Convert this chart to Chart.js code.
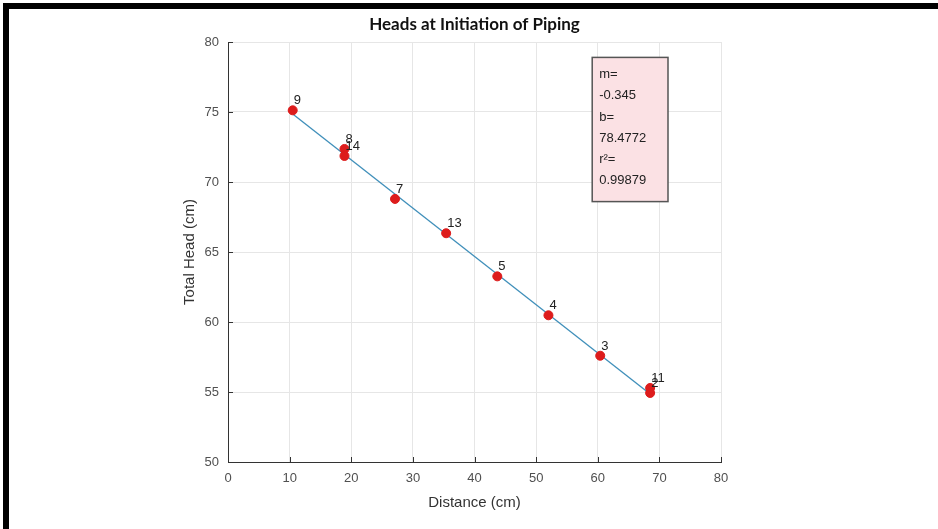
<!DOCTYPE html>
<html>
<head>
<meta charset="utf-8">
<script src="https://cdn.jsdelivr.net/npm/chart.js@4"></script>
<style>
  html, body { margin: 0; padding: 0; background: #fff; }
  #wrap { width: 938px; height: 529px; }
</style>
</head>
<body>
<div id="wrap"><canvas id="pipingChart" width="938" height="529"></canvas></div>
<script>
// tap numbers and readings taken off the plot
const tapLabels = ['9', '8', '14', '7', '13', '5', '4', '3', '11', '2'];
const distance = [10.5, 18.9, 18.9, 27.1, 35.4, 43.7, 52.0, 60.4, 68.5, 68.5];
const totalHead = [75.12, 72.36, 71.86, 68.79, 66.34, 63.26, 60.48, 57.59, 55.29, 54.93];

// fitted line end points
const fitX = [10.5, 68.5];
const fitY = [74.85, 54.85];

const fitText = ['m=', '-0.345', 'b=', '78.4772', 'r\u00B2=', '0.99879'];

const pointData = distance.map((d, i) => ({ x: d, y: totalHead[i] }));
const lineData = fitX.map((d, i) => ({ x: d, y: fitY[i] }));

const frame = {
   id: 'frame',
   beforeDraw(chart) {
      const c = chart.ctx;
      c.save();
      c.fillStyle = '#fff';
      c.fillRect(0, 0, chart.width, chart.height);
      c.fillStyle = '#000';
      c.fillRect(3, 3, 6, chart.height - 3);
      c.fillRect(3, 3, chart.width - 3, 6);
      c.restore();
   }
};

const extras = {
   id: 'extras',
   afterDatasetsDraw(chart) {
      const c = chart.ctx;
      const xs = chart.scales.x, ys = chart.scales.y;
      const area = chart.chartArea;
      c.save();

      // inward tick marks, matlab style
      c.strokeStyle = '#333';
      c.lineWidth = 1;
      c.beginPath();
      xs.ticks.forEach(t => {
         const px = Math.round(xs.getPixelForValue(t.value)) + 0.5;
         c.moveTo(px, area.bottom);
         c.lineTo(px, area.bottom - 5);
      });
      ys.ticks.forEach(t => {
         const py = Math.round(ys.getPixelForValue(t.value)) + 0.5;
         c.moveTo(area.left, py);
         c.lineTo(area.left + 5, py);
      });
      c.stroke();

      // point numbers
      const meta = chart.getDatasetMeta(0);
      c.font = '13px "Liberation Sans", Arial, sans-serif';
      c.fillStyle = '#222';
      c.textAlign = 'left';
      c.textBaseline = 'bottom';
      meta.data.forEach((el, i) => {
         c.fillText(tapLabels[i], el.x + 1, el.y - 3);
      });

      // fit box
      const bx = xs.getPixelForValue(59.1), by = ys.getPixelForValue(78.9);
      const bw = xs.getPixelForValue(71.4) - bx, bh = ys.getPixelForValue(68.6) - by;
      c.fillStyle = '#fbe1e4';
      c.fillRect(bx, by, bw, bh);
      c.strokeStyle = '#555';
      c.lineWidth = 1.5;
      c.strokeRect(bx, by, bw, bh);
      c.fillStyle = '#222';
      c.textBaseline = 'middle';
      fitText.forEach((s, i) => {
         c.fillText(s, bx + 7, by + 17 + i * 21.3);
      });
      c.restore();
   }
};

new Chart(document.getElementById('pipingChart'), {
   type: 'scatter',
   data: {
      datasets: [{
         label: 'Heads',
         data: pointData,
         pointRadius: 4.5,
         pointHoverRadius: 4.5,
         backgroundColor: '#dd1c1c',
         borderColor: '#dd1c1c'
      }, {
         label: 'Fit',
         data: lineData,
         showLine: true,
         pointRadius: 0,
         borderColor: '#3f8fba',
         borderWidth: 1.3
      }]
   },
   options: {
      responsive: false,
      animation: false,
      layout: { padding: { left: 170, right: 217, top: 0, bottom: 0 } },
      plugins: {
         legend: { display: false },
         tooltip: { enabled: false },
         title: {
            display: true,
            fullSize: false,
            text: 'Heads at Initiation of Piping',
            color: '#111',
            font: { family: 'Lato, "Open Sans", sans-serif', size: 17, weight: 'bold' },
            padding: { top: 14, bottom: 7.6 }
         }
      },
      scales: {
         x: {
            min: 0,
            max: 80,
            afterFit: s => { s.height = 67; },
            ticks: { stepSize: 10, color: '#505050', padding: 9,
               font: { family: '"Liberation Sans", Arial, sans-serif', size: 13 } },
            grid: { color: '#e6e6e6', drawTicks: false },
            border: { color: '#333', width: 1 },
            title: { display: true, text: 'Distance (cm)', color: '#333',
               padding: { top: 0, bottom: 17 },
               font: { family: '"Liberation Sans", Arial, sans-serif', size: 15 } }
         },
         y: {
            min: 50,
            max: 80,
            afterFit: s => { s.width = 58; },
            ticks: { stepSize: 5, color: '#505050', padding: 9,
               font: { family: '"Liberation Sans", Arial, sans-serif', size: 13 } },
            grid: { color: '#e6e6e6', drawTicks: false },
            border: { color: '#333', width: 1 },
            title: { display: true, text: 'Total Head (cm)', color: '#333',
               padding: { top: 11, bottom: 0 },
               font: { family: '"Liberation Sans", Arial, sans-serif', size: 15 } }
         }
      }
   },
   plugins: [frame, extras]
});
</script>
</body>
</html>
